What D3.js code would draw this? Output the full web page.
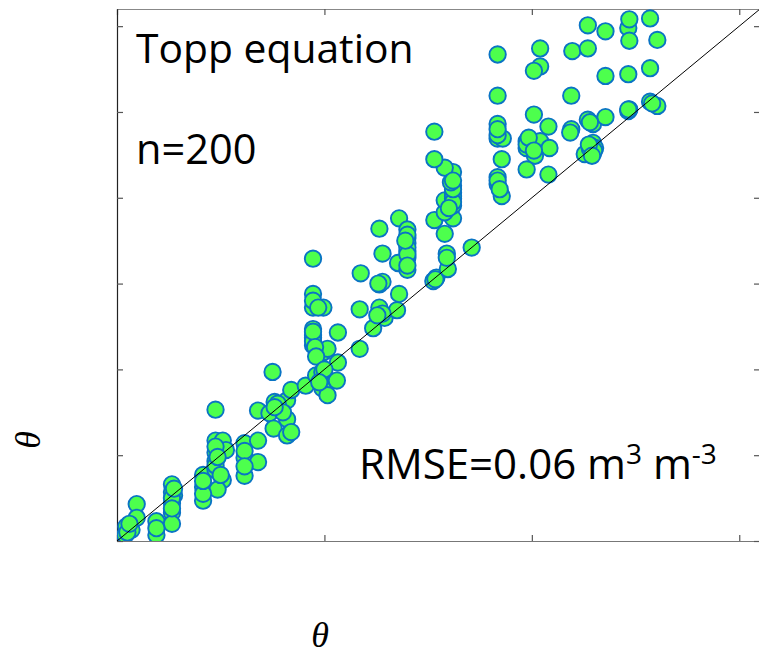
<!DOCTYPE html>
<html>
<head>
<meta charset="utf-8">
<script src="https://cdn.jsdelivr.net/npm/d3@7"></script>
<style>
  html, body { margin: 0; padding: 0; background: #fff; }
  svg { display: block; }
</style>
</head>
<body>
<svg id="chart" width="759" height="656"></svg>
<script>
// Measured soil water content (x) vs. Topp-equation estimate (y), m3 m-3
const thetaMeasured = [
  0.008, 0.009, 0.014, 0.019, 0.019, 0.038, 0.038, 0.053, 0.053, 0.055,
  0.053, 0.053, 0.053, 0.083, 0.083, 0.083, 0.095, 0.095, 0.102, 0.095,
  0.105, 0.095, 0.095, 0.102, 0.097, 0.123, 0.123, 0.123, 0.136, 0.136,
  0.136, 0.150, 0.147, 0.152, 0.157, 0.164, 0.168, 0.164, 0.151, 0.164,
  0.168, 0.182, 0.192, 0.198, 0.198, 0.203, 0.189, 0.189, 0.199, 0.203,
  0.212, 0.213, 0.189, 0.189, 0.189, 0.199, 0.189, 0.189, 0.213, 0.234,
  0.234, 0.247, 0.253, 0.258, 0.270, 0.272, 0.253, 0.256, 0.235, 0.256,
  0.253, 0.272, 0.280, 0.280, 0.280, 0.280, 0.280, 0.271, 0.280, 0.305,
  0.308, 0.319, 0.318, 0.342, 0.316, 0.306, 0.324, 0.316, 0.324, 0.316,
  0.324, 0.324, 0.324, 0.324, 0.316, 0.306, 0.306, 0.367, 0.367, 0.367,
  0.372, 0.371, 0.367, 0.367, 0.371, 0.367, 0.402, 0.416, 0.395, 0.395,
  0.408, 0.417, 0.403, 0.395, 0.416, 0.438, 0.438, 0.408, 0.408, 0.402,
  0.439, 0.454, 0.454, 0.471, 0.459, 0.454, 0.471, 0.471, 0.493, 0.514,
  0.493, 0.494, 0.494, 0.514, 0.521, 0.493, 0.494, 0.514, 0.521, 0.459,
  0.461, 0.451, 0.459, 0.456,
  0.053, 0.053, 0.055, 0.083, 0.083, 0.095, 0.095, 0.097, 0.100, 0.123,
  0.123, 0.155, 0.160, 0.189, 0.189, 0.191, 0.189, 0.194, 0.192, 0.200,
  0.195, 0.280, 0.280, 0.280, 0.280, 0.278, 0.324, 0.324, 0.324, 0.322,
  0.320, 0.324, 0.367, 0.369, 0.367, 0.367, 0.395, 0.397, 0.402, 0.457,
  0.460, 0.455, 0.458, 0.493, 0.516, 0.456, 0.437, 0.010, 0.012, 0.038,
  0.256, 0.251, 0.252, 0.307, 0.318, 0.152
];
const thetaTopp = [
  0.007, 0.017, 0.013, 0.043, 0.027, 0.023, 0.007, 0.066, 0.057, 0.053,
  0.044, 0.033, 0.020, 0.077, 0.063, 0.047, 0.153, 0.117, 0.117, 0.103,
  0.106, 0.093, 0.083, 0.071, 0.060, 0.114, 0.097, 0.076, 0.117, 0.092,
  0.152, 0.197, 0.149, 0.162, 0.156, 0.164, 0.176, 0.142, 0.131, 0.123,
  0.127, 0.181, 0.193, 0.197, 0.178, 0.170, 0.228, 0.240, 0.220, 0.224,
  0.187, 0.208, 0.329, 0.288, 0.272, 0.272, 0.247, 0.237, 0.243, 0.224,
  0.270, 0.248, 0.272, 0.260, 0.269, 0.288, 0.299, 0.302, 0.312, 0.335,
  0.364, 0.376, 0.363, 0.353, 0.347, 0.338, 0.330, 0.324, 0.316, 0.303,
  0.307, 0.317, 0.335, 0.342, 0.358, 0.374, 0.376, 0.383, 0.391, 0.397,
  0.399, 0.406, 0.414, 0.430, 0.435, 0.445, 0.477, 0.519, 0.486, 0.469,
  0.469, 0.445, 0.424, 0.416, 0.402, 0.567, 0.497, 0.483, 0.466, 0.458,
  0.466, 0.458, 0.449, 0.433, 0.427, 0.480, 0.519, 0.574, 0.553, 0.548,
  0.571, 0.601, 0.574, 0.594, 0.486, 0.491, 0.494, 0.542, 0.544, 0.551,
  0.598, 0.608, 0.583, 0.609, 0.584, 0.501, 0.503, 0.512, 0.507, 0.464,
  0.458, 0.451, 0.452, 0.457,
  0.050, 0.038, 0.061, 0.055, 0.070, 0.110, 0.088, 0.098, 0.077, 0.105,
  0.087, 0.160, 0.150, 0.233, 0.244, 0.226, 0.280, 0.272, 0.215, 0.200,
  0.185, 0.357, 0.342, 0.334, 0.321, 0.350, 0.402, 0.395, 0.410, 0.418,
  0.388, 0.420, 0.420, 0.410, 0.473, 0.480, 0.462, 0.470, 0.455, 0.460,
  0.455, 0.462, 0.449, 0.503, 0.510, 0.488, 0.476, 0.010, 0.020, 0.015,
  0.265, 0.263, 0.300, 0.305, 0.330, 0.156
];
const xTicks = [0, 0.2, 0.4, 0.6];
const yTicks = [0, 0.1, 0.2, 0.3, 0.4, 0.5, 0.6];
const oneToOne = [0, 0.62];

const svg = d3.select("#chart");
const margin = { left: 117, top: 9, width: 643, height: 532 };

const x = d3.scaleLinear().domain([0, 0.62]).range([margin.left, margin.left + margin.width]);
const y = d3.scaleLinear().domain([0, 0.62]).range([margin.top + margin.height, margin.top]);

svg.append("defs").append("clipPath").attr("id", "plot-clip")
  .append("rect")
  .attr("x", margin.left).attr("y", margin.top)
  .attr("width", margin.width).attr("height", margin.height);

// Inward ticks on all four sides, no tick labels
const tickLen = 6;
function styleAxis(g, stroke) {
  g.selectAll(".domain").attr("stroke", stroke).attr("stroke-width", 1.2);
  g.selectAll(".tick line").attr("stroke", "#555").attr("stroke-width", 1.2);
  g.selectAll(".tick text").remove();
}
svg.append("g").attr("transform", `translate(0,${y(0)})`)
  .call(d3.axisBottom(x).tickValues(xTicks).tickSizeInner(-tickLen).tickSizeOuter(0).tickFormat(""))
  .call(g => styleAxis(g, "#777"));
svg.append("g").attr("transform", `translate(0,${y(0.62)})`)
  .call(d3.axisTop(x).tickValues(xTicks).tickSizeInner(-tickLen).tickSizeOuter(0).tickFormat(""))
  .call(g => styleAxis(g, "#888"));
svg.append("g").attr("transform", `translate(${x(0)},0)`)
  .call(d3.axisLeft(y).tickValues(yTicks).tickSizeInner(-tickLen).tickSizeOuter(0).tickFormat(""))
  .call(g => styleAxis(g, "#222"));
svg.append("g").attr("transform", `translate(${x(0.62)},0)`)
  .call(d3.axisRight(y).tickValues(yTicks).tickSizeInner(-tickLen).tickSizeOuter(0).tickFormat(""))
  .call(g => styleAxis(g, "#222"));

// Scatter of the 200 samples
svg.append("g").attr("clip-path", "url(#plot-clip)")
  .selectAll("circle")
  .data(d3.range(thetaMeasured.length))
  .join("circle")
  .attr("cx", i => x(thetaMeasured[i]))
  .attr("cy", i => y(thetaTopp[i]))
  .attr("r", 8.2)
  .attr("fill", "#4dff4d")
  .attr("stroke", "#0a74c4")
  .attr("stroke-width", 1.9);

// 1:1 line
svg.append("line")
  .attr("clip-path", "url(#plot-clip)")
  .attr("x1", x(oneToOne[0])).attr("y1", y(oneToOne[0]))
  .attr("x2", x(oneToOne[1])).attr("y2", y(oneToOne[1]))
  .attr("stroke", "#000").attr("stroke-width", 1);

// Annotations
const font = "'Open Sans', 'Noto Sans', sans-serif";
svg.append("text").attr("x", 136).attr("y", 63)
  .attr("font-family", font).attr("font-size", 40.8).attr("fill", "#000")
  .text("Topp equation");
svg.append("text").attr("x", 136).attr("y", 164)
  .attr("font-family", font).attr("font-size", 41.5).attr("fill", "#000")
  .text("n=200");
const rmse = svg.append("text").attr("x", 359).attr("y", 479)
  .attr("font-family", font).attr("font-size", 42).attr("fill", "#000");
rmse.append("tspan").text("RMSE=0.06 m");
rmse.append("tspan").attr("font-size", 28).attr("dy", -15).text("3");
rmse.append("tspan").attr("dy", 15).text(" m");
rmse.append("tspan").attr("font-size", 28).attr("dy", -15).text("-3");

// Axis titles
const serif = "'Liberation Serif', 'DejaVu Serif', serif";
svg.append("text").attr("x", 320).attr("y", 647)
  .attr("text-anchor", "middle")
  .attr("font-family", serif).attr("font-style", "italic").attr("font-size", 36)
  .text("θ");
svg.append("text")
  .attr("transform", "translate(40,440) rotate(-90)")
  .attr("text-anchor", "middle")
  .attr("font-family", serif).attr("font-style", "italic").attr("font-size", 36)
  .text("θ");
</script>
</body>
</html>
